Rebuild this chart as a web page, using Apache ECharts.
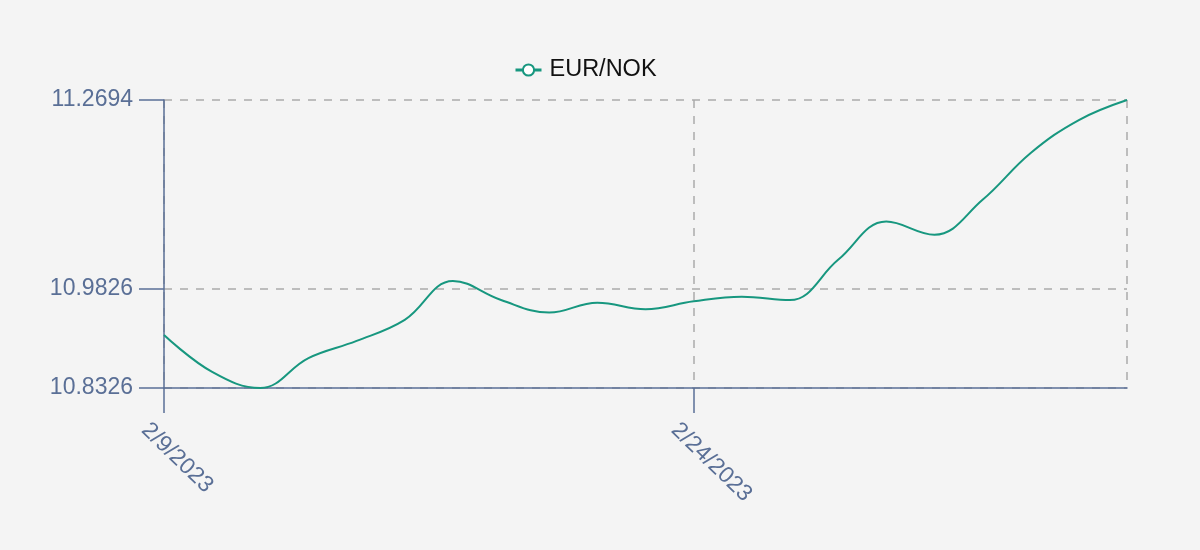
<!DOCTYPE html>
<html>
<head>
<meta charset="utf-8">
<script src="https://cdn.jsdelivr.net/npm/echarts@6/dist/echarts.min.js"></script>
<style>
html,body{margin:0;padding:0;background:#f4f4f4;}
#chart{width:1200px;height:550px;}
</style>
</head>
<body>
<div id="chart"></div>
<script>
const categories = ['2/9/2023','2/10/2023','2/13/2023','2/14/2023','2/15/2023','2/16/2023','2/17/2023','2/20/2023','2/21/2023','2/22/2023','2/23/2023','2/24/2023','2/27/2023','2/28/2023','3/1/2023','3/2/2023','3/3/2023','3/6/2023','3/7/2023','3/8/2023','3/9/2023'];
const eurNok = [10.913,10.857,10.8326,10.878,10.904,10.936,10.995,10.966,10.947,10.962,10.952,10.964,10.971,10.966,11.027,11.085,11.065,11.118,11.189,11.239,11.2694];
const yTicks = [10.8326, 10.9826, 11.2694];
const xLabelIdx = [0, 11];
const xGridIdx = [0, 11, 20];

const axisColor = '#5a6f96';
const chart = echarts.init(document.getElementById('chart'));
chart.setOption({
  backgroundColor: '#f4f4f4',
  animation: false,
  textStyle: { fontFamily: 'Liberation Sans, Arial, sans-serif' },
  legend: {
    top: 53,
    left: 509,
    itemWidth: 26,
    itemHeight: 14,
    itemGap: 10,
    lineStyle: { width: 3 },
    itemStyle: { borderWidth: 3 },
    textStyle: { fontSize: 23.5, color: '#111', padding: [0, 0, 0, 3] },
    data: ['EUR/NOK']
  },
  grid: { left: 164, right: 73, top: 100, bottom: 162 },
  xAxis: {
    type: 'category',
    data: categories,
    boundaryGap: false,
    axisLine: { lineStyle: { color: axisColor, width: 1.5 } },
    axisTick: { length: 25, interval: (i) => xLabelIdx.includes(i), lineStyle: { color: axisColor, width: 1.5 } },
    axisLabel: {
      interval: (i) => xLabelIdx.includes(i), rotate: -44, fontSize: 23, color: axisColor,
      margin: 19, verticalAlign: 'top', padding: [16, 0, 0, 0]
    },
    splitLine: { show: true, interval: (i) => xGridIdx.includes(i), lineStyle: { color: '#aaaaaa', type: [8, 8], width: 1.5 } }
  },
  yAxis: {
    type: 'value',
    min: 10.8326,
    max: 11.2694,
    axisLine: { show: true, lineStyle: { color: axisColor, width: 1.5 } },
    axisTick: { show: true, length: 25, customValues: yTicks, lineStyle: { color: axisColor, width: 1.5 } },
    axisLabel: { customValues: yTicks, fontSize: 23, color: axisColor, margin: 31, padding: [3, 0, 0, 0], formatter: (v) => v.toFixed(4) },
    splitLine: { show: true, lineStyle: { color: '#aaaaaa', type: [8, 8], width: 1.5 } }
  },
  series: [{
    name: 'EUR/NOK',
    type: 'line',
    data: eurNok,
    smooth: 0.4,
    symbol: 'emptyCircle',
    symbolSize: 8,
    showSymbol: false,
    lineStyle: { color: '#17977f', width: 2 },
    itemStyle: { color: '#17977f', borderWidth: 2.5 }
  }]
});
</script>
</body>
</html>
